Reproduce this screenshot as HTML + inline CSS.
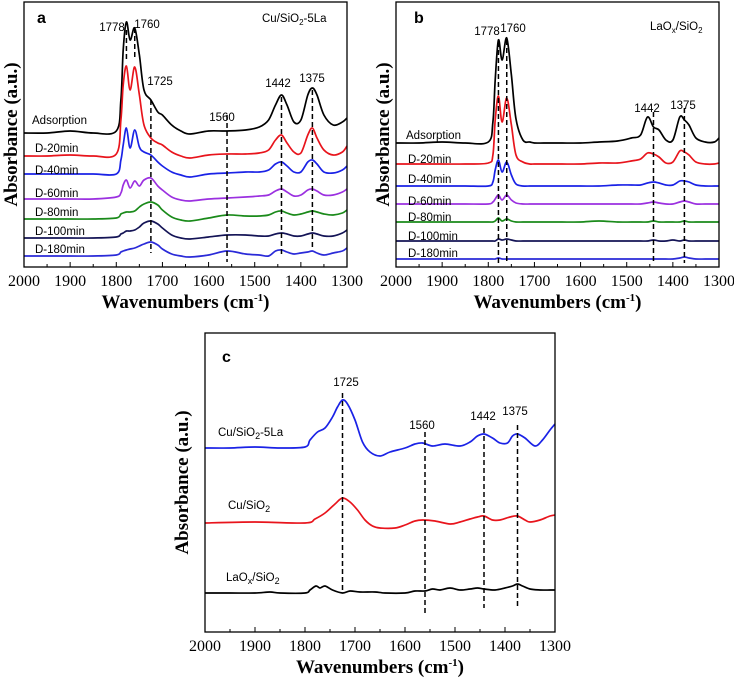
<!DOCTYPE html>
<html><head><meta charset="utf-8">
<style>
html,body{margin:0;padding:0;background:#fff;}
svg{display:block;}
.tk{font-family:"Liberation Serif",serif;font-size:16px;fill:#000;}
.ti{font-family:"Liberation Serif",serif;font-size:19px;font-weight:bold;fill:#000;}
.an{font-family:"Liberation Sans",sans-serif;font-size:11.5px;fill:#000;}
.pl{font-family:"Liberation Sans",sans-serif;font-size:16px;font-weight:bold;fill:#000;}
</style></head>
<body>
<svg id="fig" width="734" height="686" viewBox="0 0 734 686" xmlns="http://www.w3.org/2000/svg"></svg>
<script>
// ---- shared wavenumber grid for panels a and b ----
const wnAB = [2000,1950,1900,1850,1800,1790,1785,1778,1770,1760,1750,1740,1725,1710,1700,1680,1660,1640,1600,1560,1520,1490,1470,1455,1442,1430,1415,1400,1385,1375,1365,1350,1330,1310,1300];
const xTicks = [2000,1900,1800,1700,1600,1500,1400,1300];
const seriesNamesA = ["Adsorption","D-20min","D-40min","D-60min","D-80min","D-100min","D-180min"];
// ---- panel a (Cu/SiO2-5La) absorbance, arbitrary units incl. offset ----
const aAds  = [134,134,136,134,136,167,217,245,227,239,212,177,167,155,152,142,136,133,136,136,137,140,147,162,172,162,145,147,172,179,172,152,142,145,149];
const aD20  = [111,111,112,111,113,147,182,201,177,200,172,142,129,124,122,115,111,109,112,113,113,114,117,127,132,124,115,114,132,139,129,117,112,115,121];
const aD40  = [93,93,93,93,93,107,122,139,119,137,120,115,112,105,101,95,92,90,93,94,95,95,97,103,105,101,95,95,105,107,103,95,94,97,101];
const aD60  = [68,68,68,68,70,74,82,87,79,86,81,87,89,81,77,70,67,66,68,69,70,71,72,76,78,75,71,72,77,78,76,72,72,75,78];
const aD80  = [48,48,48,48,49,53,54,55,55,56,60,63,65,62,57,50,47,46,49,52,51,51,52,55,56,54,52,53,55,56,55,53,52,54,57];
const aD100 = [29,29,29,29,30,33,34,36,36,37,40,44,46,43,39,32,29,28,30,32,32,31,31,33,34,33,31,31,33,34,33,31,31,34,37];
const aD180 = [11,11,11,11,12,15,16,17,18,19,21,23,25,22,18,13,11,10,12,16,13,12,11,16,17,15,13,14,15,16,14,12,14,16,19];
// ---- panel b (LaOx/SiO2) ----
const bAds  = [124,124,125,124,125,145,187,227,207,229,192,148,127,125,124,124,124,124,124,125,126,129,132,150,140,137,127,127,150,147,142,129,125,125,129];
const bD20  = [103,103,103,103,104,112,147,171,145,169,142,112,105,103,103,103,103,103,103,104,104,106,108,114,113,110,104,105,116,115,112,105,103,103,104];
const bD40  = [81,81,81,81,81,85,97,107,95,105,92,83,81,81,81,81,81,81,81,81,82,82,82,84,85,84,82,82,86,86,85,82,81,81,81];
const bD60  = [63,63,63,63,63,65,68,72,67,72,67,64,63,63,63,63,63,63,63,63,63,63,63,64,65,64,63,63,65,66,65,63,63,63,63];
const bD80  = [45,45,45,45,45,45,46,49,46,48,46,45,45,45,45,45,45,45,45,46,45,45,45,45,46,45,45,45,45,46,45,45,45,45,45];
const bD100 = [26,26,26,26,26,26,26,28,27,28,27,26,26,26,26,26,26,26,26,26,26,26,26,26,27,26,26,27,26,27,26,26,26,26,26];
const bD180 = [8,8,8,8,8,8,8,9,8,8,8,8,8,8,8,8,8,8,8,8,8,8,8,8,8,8,8,8,9,10,9,8,8,8,8];
// ---- panel c ----
const wnC1 = [2000,1950,1900,1850,1800,1790,1775,1760,1745,1735,1725,1715,1700,1685,1670,1650,1630,1600,1580,1565,1545,1520,1490,1470,1455,1442,1425,1410,1395,1385,1375,1360,1340,1325,1310,1300];
const cCuLa = [184,184,185,184,185,192,200,204,215,225,232,228,212,190,180,176,180,184,188,189,186,188,186,190,196,198,194,189,189,196,198,194,186,192,202,208];
const wnC2 = [2000,1900,1800,1780,1760,1740,1725,1710,1695,1680,1665,1650,1620,1600,1580,1565,1540,1510,1490,1470,1455,1442,1425,1410,1390,1375,1360,1350,1330,1310,1300];
const cCu   = [109,110,109,113,119,128,134,130,122,112,106,104,104,107,111,112,111,108,110,113,115,116,112,112,115,116,112,110,112,116,117];
const wnC3 = [2000,1950,1900,1870,1850,1800,1790,1778,1770,1760,1745,1725,1710,1690,1660,1640,1600,1580,1560,1545,1530,1510,1490,1470,1455,1442,1420,1400,1385,1375,1365,1350,1330,1310,1300];
const cLa   = [39,39,39,40,39,39,42,46,44,46,42,39,41,40,40,39,39,41,41,43,42,44,42,43,44,43,42,44,46,48,46,43,42,42,42];

const NS="http://www.w3.org/2000/svg";
const svg=document.getElementById('fig');
function mk(tag,attrs,parent){const e=document.createElementNS(NS,tag);for(const k in attrs)e.setAttribute(k,attrs[k]);(parent||svg).appendChild(e);return e;}
function path(pts){let d="M"+pts[0][0].toFixed(1)+","+pts[0][1].toFixed(1);
 for(let i=0;i<pts.length-1;i++){const p0=pts[Math.max(0,i-1)],p1=pts[i],p2=pts[i+1],p3=pts[Math.min(pts.length-1,i+2)];
  const c1=[p1[0]+(p2[0]-p0[0])/6,p1[1]+(p2[1]-p0[1])/6],c2=[p2[0]-(p3[0]-p1[0])/6,p2[1]-(p3[1]-p1[1])/6];
  d+="C"+c1[0].toFixed(1)+","+c1[1].toFixed(1)+" "+c2[0].toFixed(1)+","+c2[1].toFixed(1)+" "+p2[0].toFixed(1)+","+p2[1].toFixed(1);}
 return d;}

function panel(cfg){
 const g=mk('g',{});
 
 
 const {x0,x1,y0,y1}=cfg;
 const xs=w=>x0+(2000-w)/700*(x1-x0);
 const ys=v=>y1-v*(y1-y0)/cfg.ymax;
 cfg.series.forEach(s=>{
  const pts=s.wn.map((w,i)=>[xs(w),ys(s.v[i])]);
  const p=mk('path',{d:path(pts),fill:'none',stroke:s.color,'stroke-width':1.7,'stroke-linejoin':'round'},g);
  
  
  if(s.label){const t=mk('text',{x:s.lx,y:s.ly,class:'an'},g);t.textContent=s.label;
   
   }
 });
 cfg.marks.forEach(m=>{
  const l=mk('line',{x1:xs(m.w),x2:xs(m.w),y1:m.ya,y2:m.yb,stroke:'#000','stroke-width':1.5,'stroke-dasharray':'5,3'},g);
  
  
  if(m.lx!==undefined){const t=mk('text',{x:m.lx,y:m.ly,class:'an','text-anchor':'middle'},g);t.textContent=m.w;
   
   }
 });
 const f=mk('rect',{x:x0,y:y0,width:x1-x0,height:y1-y0,fill:'none',stroke:'#000','stroke-width':1.3},g);
 
 
 for(let w=2000;w>=1300;w-=50){const major=(w%100===0);
  mk('line',{x1:xs(w),x2:xs(w),y1:y1,y2:y1-(major?5:3),stroke:'#000','stroke-width':1},g);}
 xTicks.forEach(w=>{const t=mk('text',{x:xs(w),y:y1+19,class:'tk','text-anchor':'middle'},g);t.textContent=w;
  
  });
 const xt=mk('text',{x:(x0+x1)/2,y:y1+41,class:'ti','text-anchor':'middle'},g);
 xt.innerHTML='Wavenumbers (cm<tspan dy="-7" font-size="11">-1</tspan><tspan dy="7">)</tspan>';
 
 
 const yt=mk('text',{x:0,y:0,class:'ti','text-anchor':'middle',transform:`translate(${cfg.ytx},${(y0+y1)/2}) rotate(-90)`},g);
 yt.textContent='Absorbance (a.u.)';
 
 
 const pl=mk('text',{x:cfg.plx,y:cfg.ply,class:'pl'},g);pl.textContent=cfg.letter;
 
 
 if(cfg.title){const t=mk('text',{x:cfg.tx,y:cfg.ty,class:'an','font-size':'12'},g);t.innerHTML=cfg.title;
  
  }
}

const colorsAB=['#000000','#e8141c','#1a22e6','#9b30e0','#1a8a1a','#141456','#2a2ad8'];
const dataA=[aAds,aD20,aD40,aD60,aD80,aD100,aD180];
const dataB=[bAds,bD20,bD40,bD60,bD80,bD100,bD180];
const lyA=[124,152,174,197,216,235,253];
const lyB=[139,163,183,205,221,240,257];

panel({name:'panel-a',letter:'a',x0:24,x1:347,y0:2,y1:267,ymax:265,ytx:17,plx:37,ply:23,
 title:'Cu/SiO<tspan dy="3" font-size="8">2</tspan><tspan dy="-3">-5La</tspan>',tx:262,ty:22,
 series:dataA.map((v,i)=>({id:'series-a-'+seriesNamesA[i].toLowerCase(),wn:wnAB,v:v,color:colorsAB[i],label:seriesNamesA[i],lx:i===0?32:35,ly:lyA[i]})),
 marks:[{w:1778,ya:30,yb:60,lx:112,ly:31},{w:1760,ya:28,yb:60,lx:147,ly:28},{w:1725,ya:100,yb:253,lx:160,ly:85},
  {w:1560,ya:115,yb:262,lx:222,ly:121},{w:1442,ya:97,yb:255,lx:278,ly:87},{w:1375,ya:90,yb:248,lx:312,ly:82}]});

panel({name:'panel-b',letter:'b',x0:396,x1:719,y0:2,y1:267,ymax:265,ytx:389,plx:414,ply:23,
 title:'LaO<tspan dy="3" font-size="8">x</tspan><tspan dy="-3">/SiO</tspan><tspan dy="3" font-size="8">2</tspan>',tx:650,ty:30,
 series:dataB.map((v,i)=>({id:'series-b-'+seriesNamesA[i].toLowerCase(),wn:wnAB,v:v,color:colorsAB[i],label:seriesNamesA[i],lx:i===0?406:408,ly:lyB[i]})),
 marks:[{w:1778,ya:42,yb:263,lx:487,ly:35},{w:1760,ya:40,yb:263,lx:513,ly:32},
  {w:1442,ya:112,yb:263,lx:647,ly:112},{w:1375,ya:108,yb:263,lx:683,ly:109}]});

panel({name:'panel-c',letter:'c',x0:205,x1:555,y0:333,y1:632,ymax:299,ytx:188,plx:222,ply:362,
 series:[{id:'series-c-cu-sio2-5la',wn:wnC1,v:cCuLa,color:'#1a22e6'},
  {id:'series-c-cu-sio2',wn:wnC2,v:cCu,color:'#e8141c'},
  {id:'series-c-laox-sio2',wn:wnC3,v:cLa,color:'#000000'}],
 marks:[{w:1725,ya:393,yb:592,lx:346,ly:386},{w:1560,ya:432,yb:615,lx:422,ly:429},
  {w:1442,ya:428,yb:608,lx:483,ly:420},{w:1375,ya:425,yb:607,lx:515,ly:415}]});

[['Cu/SiO<tspan dy="3" font-size="9">2</tspan><tspan dy="-3">-5La</tspan>',218,436,'label-cu-sio2-5la'],
 ['Cu/SiO<tspan dy="3" font-size="9">2</tspan>',228,509,'label-cu-sio2'],
 ['LaO<tspan dy="3" font-size="9">x</tspan><tspan dy="-3">/SiO</tspan><tspan dy="3" font-size="9">2</tspan>',226,581,'label-laox-sio2']
].forEach(d=>{const t=mk('text',{x:d[1],y:d[2],class:'an','font-size':'13'});t.innerHTML=d[0];
 
 });
</script>
</body></html>
